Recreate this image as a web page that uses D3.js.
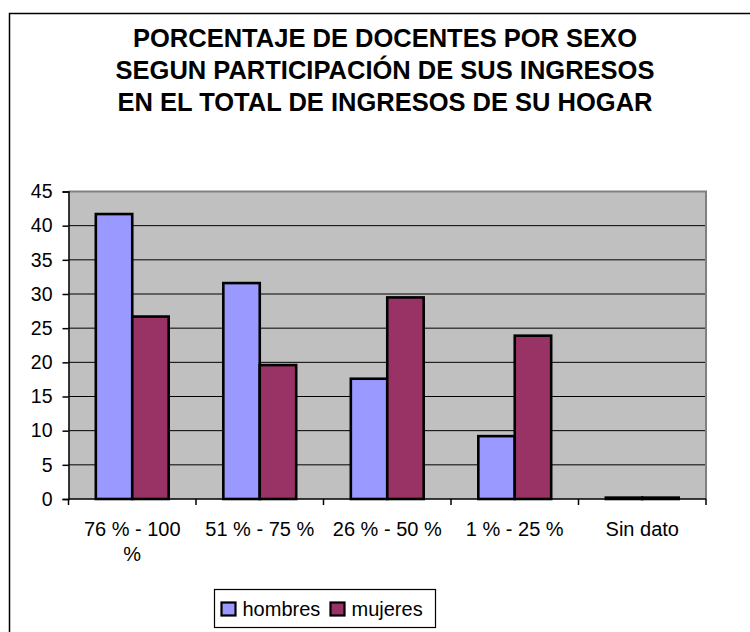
<!DOCTYPE html>
<html>
<head>
<meta charset="utf-8">
<script src="https://cdn.jsdelivr.net/npm/d3@7"></script>
<style>
  body { margin: 0; background: #fff; }
  svg text { font-family: "Liberation Sans", Arial, sans-serif; fill: #000; }
</style>
</head>
<body>
<div id="chart"></div>
<script>
// datos del grafico
var categorias = ["76 % - 100 %", "51 % - 75 %", "26 % - 50 %", "1 % - 25 %", "Sin dato"];
var hombres = [41.7, 31.6, 17.6, 9.2, 0.2];
var mujeres = [26.7, 19.6, 29.5, 23.9, 0.2];
var series = ["hombres", "mujeres"];
var colores = ["#9999FF", "#993366"];
var yTicks = [0, 5, 10, 15, 20, 25, 30, 35, 40, 45];
var titulo = [
  "PORCENTAJE DE DOCENTES POR SEXO",
  "SEGUN PARTICIPACIÓN DE SUS INGRESOS",
  "EN EL TOTAL DE INGRESOS DE SU HOGAR"
];

var W = 750, H = 632;
var margin = { top: 191.5, right: 44, bottom: 133, left: 68.5 };
var width = W - margin.left - margin.right,
  height = H - margin.top - margin.bottom;

var svg = d3.select("#chart").append("svg")
  .attr("width", W)
  .attr("height", H);

// borde exterior (cortado a la derecha y abajo)
svg.append("rect")
  .attr("x", 9.5).attr("y", 13.5)
  .attr("width", W + 20).attr("height", H + 20)
  .attr("fill", "#fff")
  .attr("stroke", "#000")
  .attr("stroke-width", 1.5);

// titulo
svg.append("text")
  .attr("text-anchor", "middle")
  .style("font-size", "25.5px")
  .style("font-weight", "bold")
  .selectAll("tspan")
  .data(titulo)
  .enter()
  .append("tspan")
  .attr("x", 385)
  .attr("y", function(d, i) { return 46.5 + i * 32; })
  .text(function(d) { return d; });

var x0 = d3.scaleBand()
  .domain(categorias)
  .range([0, width])
  .paddingInner(0)
  .paddingOuter(0);

// gap width 150% -> cada barra ocupa 1/3.5 de la categoria
var x1 = d3.scaleBand()
  .domain(series)
  .range([x0.bandwidth() * 0.75 / 3.5, x0.bandwidth() - x0.bandwidth() * 0.75 / 3.5]);

var y = d3.scaleLinear().domain([0, 45]).range([height, 0]);

var g = svg.append("g")
  .attr("transform", "translate(" + margin.left + "," + margin.top + ")");

// area de trazado
g.append("rect")
  .attr("width", width).attr("height", height)
  .attr("fill", "#C0C0C0");

// lineas de division
g.selectAll(".grid")
  .data(yTicks.filter(function(d) { return d > 0 && d < 45; }))
  .enter()
  .append("line")
  .attr("x1", 0).attr("x2", width)
  .attr("y1", function(d) { return y(d); })
  .attr("y2", function(d) { return y(d); })
  .attr("stroke", "#000")
  .attr("stroke-width", 1);

// borde gris arriba y derecha
g.append("path")
  .attr("d", "M0," + y(45) + "H" + width + "V" + height)
  .attr("fill", "none")
  .attr("stroke", "#808080")
  .attr("stroke-width", 2);

// barras
var datos = categorias.map(function(c, i) {
  return { cat: c, vals: [hombres[i], mujeres[i]] };
});
var grupos = g.selectAll(".grupo")
  .data(datos)
  .enter()
  .append("g")
  .attr("transform", function(d) { return "translate(" + x0(d.cat) + ",0)"; });
grupos.selectAll("rect")
  .data(function(d) {
    return d.vals.map(function(v, j) { return { s: series[j], v: v, c: colores[j] }; });
  })
  .enter()
  .append("rect")
  .attr("x", function(d) { return x1(d.s); })
  .attr("y", function(d) { return y(d.v); })
  .attr("width", x1.bandwidth())
  .attr("height", function(d) { return y(0) - y(d.v); })
  .attr("fill", function(d) { return d.c; })
  .attr("stroke", "#000")
  .attr("stroke-width", 2.6);

// eje y
var yAxis = d3.axisLeft(y).tickValues(yTicks).tickSize(6).tickPadding(10);
var gy = g.append("g").call(yAxis);
gy.select(".domain").attr("stroke", "#000").attr("stroke-width", 1.5);
gy.selectAll(".tick line").attr("stroke", "#000").attr("stroke-width", 1.5);
gy.selectAll("text")
  .style("font-size", "19.5px")
  .style("font-family", "'Liberation Sans', Arial, sans-serif");

// eje x
g.append("line")
  .attr("x1", 0).attr("x2", width)
  .attr("y1", height).attr("y2", height)
  .attr("stroke", "#000").attr("stroke-width", 1.5);
var bordes = d3.range(categorias.length + 1).map(function(i) { return i * x0.step(); });
g.selectAll(".xtick")
  .data(bordes)
  .enter()
  .append("line")
  .attr("x1", function(d) { return d; })
  .attr("x2", function(d) { return d; })
  .attr("y1", height).attr("y2", height + 6)
  .attr("stroke", "#000").attr("stroke-width", 1.5);

var xl = g.selectAll(".xlabel")
  .data(categorias)
  .enter()
  .append("text")
  .attr("text-anchor", "middle")
  .style("font-size", "20px")
  .attr("x", function(d) { return x0(d) + x0.bandwidth() / 2; })
  .attr("y", height + 37)
  .text(function(d) { return d; });
xl.each(function(d) {
  wrap(d3.select(this), x0.bandwidth() - 12);
});

// leyenda
var leg = svg.append("g").attr("transform", "translate(214.5,589.5)");
leg.append("rect")
  .attr("width", 221).attr("height", 38)
  .attr("fill", "#fff")
  .attr("stroke", "#000").attr("stroke-width", 1.2);
var legX = [7, 116];
var item = leg.selectAll(".item")
  .data(series)
  .enter()
  .append("g")
  .attr("transform", function(d, i) { return "translate(" + legX[i] + ",0)"; });
item.append("rect")
  .attr("x", 0).attr("y", 13)
  .attr("width", 14).attr("height", 13)
  .attr("fill", function(d, i) { return colores[i]; })
  .attr("stroke", "#000").attr("stroke-width", 2.2);
item.append("text")
  .attr("x", 21).attr("y", 26)
  .style("font-size", "20px")
  .text(function(d) { return d; });

// corta el texto en lineas si es mas ancho que la categoria
function wrap(text, maxW) {
  var words = text.text().split(/\s+/),
    xx = text.attr("x"),
    yy = text.attr("y"),
    line = [],
    lineNum = 0,
    tspan = text.text(null).append("tspan").attr("x", xx).attr("y", yy);
  words.forEach(function(w) {
    line.push(w);
    tspan.text(line.join(" "));
    if (tspan.node().getComputedTextLength() > maxW && line.length > 1) {
      line.pop();
      tspan.text(line.join(" "));
      line = [w];
      lineNum++;
      tspan = text.append("tspan")
        .attr("x", xx)
        .attr("y", +yy + lineNum * 25)
        .text(w);
    }
  });
}
</script>
</body>
</html>
